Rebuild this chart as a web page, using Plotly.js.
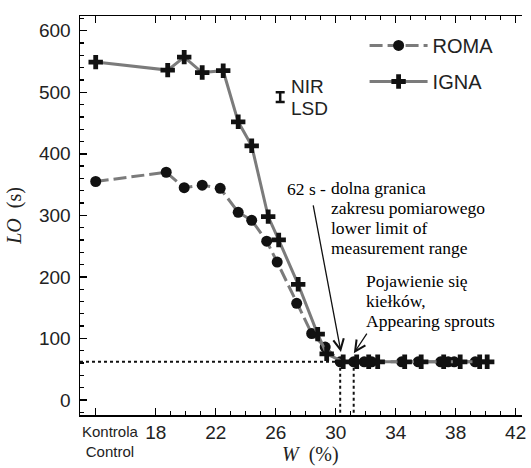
<!DOCTYPE html>
<html>
<head>
<meta charset="utf-8">
<script src="https://cdn.plot.ly/plotly-3.0.1.min.js"></script>
<style>
  html, body { margin: 0; padding: 0; background: #fff; }
  #chart { width: 531px; height: 468px; }
</style>
</head>
<body>
<div id="chart"></div>
<script>
// Moisture content W (%) – the control sample sits at position 14 on the axis
const romaW  = [14, 18.7, 19.9, 21.1, 22.3, 23.5, 24.4, 25.4, 26.1, 27.4, 28.4, 29.3,
                30.3, 31.2, 31.9, 32.4, 34.4, 35.5, 37.0, 37.5, 37.9, 39.3];
const romaLO = [355, 370, 345, 349, 344, 305, 292, 258, 224, 157, 108, 86,
                62, 62, 62, 62, 62, 62, 62, 62, 62, 62];

const ignaW  = [14, 18.8, 19.9, 21.1, 22.5, 23.5, 24.4, 25.5, 26.2, 27.5, 28.8, 29.4,
                30.5, 31.4, 32.2, 32.8, 34.6, 35.7, 37.2, 38.3, 39.6, 40.1];
const ignaLO = [549, 536, 557, 532, 535, 452, 413, 298, 260, 188, 107, 75,
                62, 62, 62, 62, 62, 62, 62, 62, 62, 62];

// NIR / LSD bar
const lsdW = [26.3];
const lsdCenter = [492];
const lsdValue = 16;

// Lower limit of the measuring range and the two moisture markers
const lowerLimit = 62;
const limitW = 30.3;
const sproutW = 31.2;

// Axis ticks
const xTickVals = [14, 18, 22, 26, 30, 34, 38, 42];
const xTickText = ['', '18', '22', '26', '30', '34', '38', '42'];
const xMinorVals = [19, 20, 21, 23, 24, 25, 27, 28, 29, 31, 32, 33, 35, 36, 37, 39, 40, 41];
const yTickVals = [0, 100, 200, 300, 400, 500, 600];

// Explanatory notes (the limit note starts with "62 s -", set to the left of the block)
const limitLead = '62 s -';
const limitLines = ['dolna granica', 'zakresu pomiarowego', 'lower limit of', 'measurement range'];
const sproutLines = ['Pojawienie się', 'kiełków,', 'Appearing sprouts'];

const lineGrey = '#7b7b7b';
const ink = '#111';
const sans = 'Liberation Sans, Arial, sans-serif';
const serif = 'Liberation Serif, Times New Roman, serif';
const noteSize = 17.5;

// glyphs at noteSize on a 20px line pitch (line spacing is 1.3em of the outer size)
function tightBlock(lines) {
  return lines.map(function (s) { return '<span style="font-size:' + noteSize + 'px">' + s + '</span>'; }).join('<br>');
}

const traces = [
  {
    x: romaW, y: romaLO, name: 'ROMA', mode: 'lines+markers', legendgroup: 'a',
    line: { color: lineGrey, width: 3, dash: '13px,5px' },
    marker: { symbol: 'circle', size: 11, color: ink }
  },
  {
    x: ignaW, y: ignaLO, name: 'IGNA', mode: 'lines+markers', legendgroup: 'b',
    line: { color: lineGrey, width: 3 },
    marker: { symbol: 'cross', size: 12, color: ink }
  },
  {
    x: lsdW, y: lsdCenter, mode: 'markers', showlegend: false, hoverinfo: 'skip',
    marker: { size: 1, color: 'rgba(0,0,0,0)' },
    error_y: { type: 'constant', value: lsdValue / 2, width: 4.5, thickness: 2.5, color: ink }
  }
];

const xr = [12.953, 42.42];
const yr = [-24.4, 623.9];

const tickFont = { family: sans, size: 19, color: '#222' };
const blockFont = { family: serif, size: 15.4, color: '#000' };

const annotations = [
  { text: limitLead, x: 29.45, y: 343.5, xref: 'x', yref: 'y', xanchor: 'right', yanchor: 'middle',
    showarrow: false, borderpad: 0, font: { family: serif, size: noteSize, color: '#000' } },
  { text: tightBlock(limitLines), x: 29.61, y: 295, xref: 'x', yref: 'y', xanchor: 'left', yanchor: 'middle',
    align: 'left', showarrow: false, borderpad: 0, font: blockFont },
  { text: tightBlock(sproutLines), x: 31.95, y: 161.6, xref: 'x', yref: 'y', xanchor: 'left', yanchor: 'middle',
    align: 'left', showarrow: false, borderpad: 0, font: blockFont },
  { text: 'NIR', x: 26.89, y: 509, xref: 'x', yref: 'y', xanchor: 'left', yanchor: 'middle',
    showarrow: false, font: { family: sans, size: 19, color: '#222' } },
  { text: 'LSD', x: 26.89, y: 474, xref: 'x', yref: 'y', xanchor: 'left', yanchor: 'middle',
    showarrow: false, font: { family: sans, size: 19, color: '#222' } },
  // arrows pointing at the lower limit and at the appearance of sprouts
  { text: '', x: limitW + 0.05, y: lowerLimit + 16, xref: 'x', yref: 'y', showarrow: true,
    ax: -28, ay: -148, arrowhead: 5, arrowsize: 1.6, arrowwidth: 1.3, arrowcolor: ink, standoff: 0 },
  { text: '', x: sproutW + 0.01, y: lowerLimit + 14, xref: 'x', yref: 'y', showarrow: true,
    ax: 14, ay: -21, arrowhead: 5, arrowsize: 1.6, arrowwidth: 1.3, arrowcolor: ink, standoff: 0 },
  // control label and x-axis title
  { text: 'Kontrola<br>Control', x: 0, y: -0.015, xref: 'paper', yref: 'paper',
    xanchor: 'left', yanchor: 'top', align: 'center', showarrow: false,
    font: { family: sans, size: 15, color: '#222' } },
  { text: '<i>W</i>  (%)', x: 0.51, y: -0.1, xref: 'paper', yref: 'paper',
    xanchor: 'center', yanchor: 'middle', showarrow: false,
    font: { family: serif, size: 20, color: '#222' } }
];

const dotted = { color: ink, width: 2, dash: '3px,3px' };
const shapes = [
  { type: 'line', xref: 'x', yref: 'y', x0: xr[0], x1: limitW, y0: lowerLimit, y1: lowerLimit, line: dotted },
  { type: 'line', xref: 'x', yref: 'y', x0: limitW, x1: limitW, y0: lowerLimit, y1: yr[0], line: dotted },
  { type: 'line', xref: 'x', yref: 'y', x0: sproutW, x1: sproutW, y0: lowerLimit, y1: yr[0], line: dotted }
];

const layout = {
  width: 531, height: 468,
  margin: { l: 80, r: 0, t: 16, b: 53 },
  paper_bgcolor: '#fff', plot_bgcolor: '#fff',
  showlegend: true,
  legend: {
    x: 0.631, y: 0.975, xanchor: 'left', yanchor: 'top',
    bgcolor: 'rgba(0,0,0,0)', borderwidth: 0,
    font: { family: sans, size: 20, color: '#222' },
    itemwidth: 58, tracegroupgap: 7, traceorder: 'grouped'
  },
  xaxis: {
    domain: [0, 0.98], range: xr, showgrid: false, zeroline: false,
    showline: true, linecolor: '#000', linewidth: 1.5, mirror: 'ticks',
    tickmode: 'array', tickvals: xTickVals, ticktext: xTickText,
    ticks: 'inside', ticklen: 7, tickwidth: 1.5, tickcolor: '#000',
    tickfont: tickFont,
    minor: { tickmode: 'array', tickvals: xMinorVals, ticks: 'inside', ticklen: 4, tickwidth: 1.3, tickcolor: '#000' }
  },
  yaxis: {
    range: yr, showgrid: false, zeroline: false,
    showline: true, linecolor: '#000', linewidth: 1.5,
    tickmode: 'array', tickvals: yTickVals,
    ticks: 'inside', ticklen: 7, tickwidth: 1.5, tickcolor: '#000',
    tickfont: tickFont, ticklabelstandoff: 4,
    minor: { dtick: 20, tick0: 0, ticks: 'inside', ticklen: 4, tickwidth: 1.3, tickcolor: '#000' },
    title: { text: '<i>LO</i>  (s)', font: { family: serif, size: 20, color: '#222' }, standoff: 12 }
  },
  yaxis2: {
    overlaying: 'y', side: 'right', anchor: 'free', position: 1,
    range: yr, showgrid: false, zeroline: false, showline: false, showticklabels: false,
    tickmode: 'array', tickvals: yTickVals,
    ticks: 'inside', ticklen: 8, tickwidth: 1.5, tickcolor: '#000',
    minor: { dtick: 20, tick0: 0, ticks: 'inside', ticklen: 5, tickwidth: 1.3, tickcolor: '#000' }
  },
  annotations: annotations,
  shapes: shapes
};

Plotly.newPlot('chart', traces, layout, { displayModeBar: false, staticPlot: true });
</script>
</body>
</html>
